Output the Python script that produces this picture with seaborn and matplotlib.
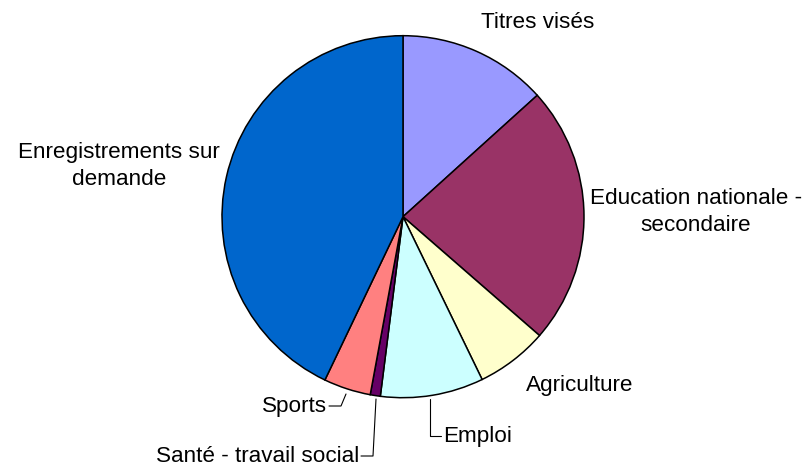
import matplotlib
matplotlib.use("Agg")
import matplotlib.pyplot as plt
import seaborn as sns

# parts (%) read clockwise from 12 o'clock
categories = ["Titres visés", "Education nationale -\nsecondaire", "Agriculture",
              "Emploi", "Santé - travail social", "Sports",
              "Enregistrements sur\ndemande"]
values = [13.3, 23.1, 6.4, 9.2, 0.9, 4.2, 42.9]
colors = ["#9999FF", "#993366", "#FFFFCC", "#CCFFFF", "#660066", "#FF8080", "#0066CC"]

sns.set_style("white")
plt.rcParams['font.family'] = ['Liberation Sans', 'DejaVu Sans']
plt.rcParams['text.color'] = 'black'

W, H = 805, 469
CX, CY, R = 403, 216.7, 181


def px(x, y):
    # pixel position (from top-left) -> data coordinates
    return (x - CX) / R, (CY - y) / R


fig = plt.figure(figsize=(W / 100, H / 100), dpi=100)
ax = fig.add_axes([0, 0, 1, 1])
ax.pie(values, colors=colors, startangle=90, counterclock=False, radius=1,
       wedgeprops=dict(edgecolor="black", linewidth=1.1))
ax.set_aspect('auto')
ax.set_xlim(px(0, 0)[0], px(W, 0)[0])
ax.set_ylim(px(0, H)[1], px(0, 0)[1])
ax.axis('off')

fs = 16.2
tk = dict(va='center', fontsize=fs, color='black')
ax.text(*px(538, 22), categories[0], ha='center', **tk)
ax.text(*px(696, 212), categories[1], ha='center', multialignment='center',
        linespacing=1.42, **tk)
ax.text(*px(580, 385), categories[2], ha='center', **tk)
ax.text(*px(443, 436), categories[3], ha='left', **tk)
ax.text(*px(359, 456), categories[4], ha='right', **tk)
ax.text(*px(327, 406), categories[5], ha='right', **tk)
ax.text(*px(119, 166), categories[6], ha='center', multialignment='center',
        linespacing=1.42, **tk)

# leader lines
lk = dict(color="black", linewidth=0.8)
for pts in [[(430, 399), (430, 436), (441, 436)],
            [(376, 399), (373, 456), (361, 456)],
            [(346, 394), (341, 406), (329, 406)]]:
    xs, ys = zip(*[px(*p) for p in pts])
    ax.plot(xs, ys, **lk)

fig.savefig("out.png", dpi=100)
